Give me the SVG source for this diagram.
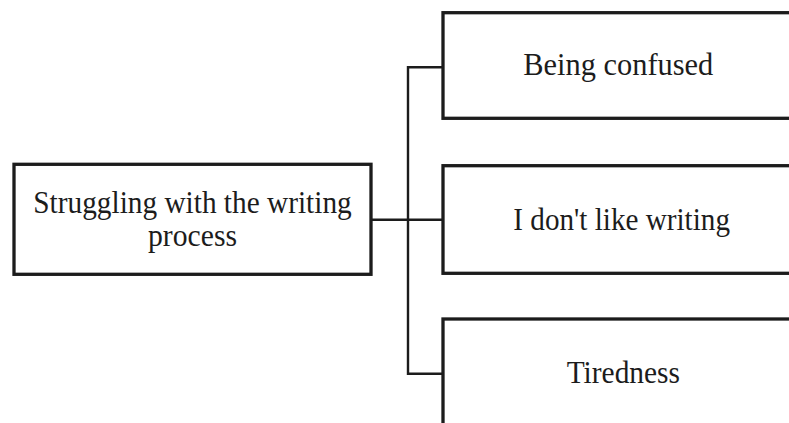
<svg xmlns="http://www.w3.org/2000/svg" width="789" height="423" viewBox="0 0 789 423">
  <style>
    .box { fill: #ffffff; stroke: #1c1c1c; stroke-width: 3.3; }
    .wire { fill: none; stroke: #1c1c1c; stroke-width: 2.4; stroke-linejoin: miter; }
    .label { font-family: "Liberation Serif", "Times New Roman", serif; font-size: 31px; fill: #1c1c1c; }
  </style>
  <rect width="789" height="423" fill="#ffffff"/>

  <g id="connectors">
    <path class="wire" d="M371 219.7 H443"/>
    <path class="wire" d="M443 67.3 H408 V373.7 H443"/>
  </g>

  <g id="node-struggling">
    <rect class="box" x="14" y="164.3" width="357" height="110"/>
    <text class="label" x="33.3" y="213" textLength="318.4" lengthAdjust="spacingAndGlyphs">Struggling with the writing</text>
    <text class="label" x="148" y="245.5" textLength="89" lengthAdjust="spacingAndGlyphs">process</text>
  </g>

  <g id="node-confused">
    <rect class="box" x="443" y="12.7" width="360" height="105.6"/>
    <text class="label" x="523.3" y="75" textLength="190" lengthAdjust="spacingAndGlyphs">Being confused</text>
  </g>

  <g id="node-dislike">
    <rect class="box" x="443" y="165.7" width="360" height="107.6"/>
    <text class="label" x="513.3" y="230" textLength="216.7" lengthAdjust="spacingAndGlyphs">I don't like writing</text>
  </g>

  <g id="node-tiredness">
    <rect class="box" x="443" y="319" width="360" height="120"/>
    <text class="label" x="566.7" y="383" textLength="113.3" lengthAdjust="spacingAndGlyphs">Tiredness</text>
  </g>
</svg>
